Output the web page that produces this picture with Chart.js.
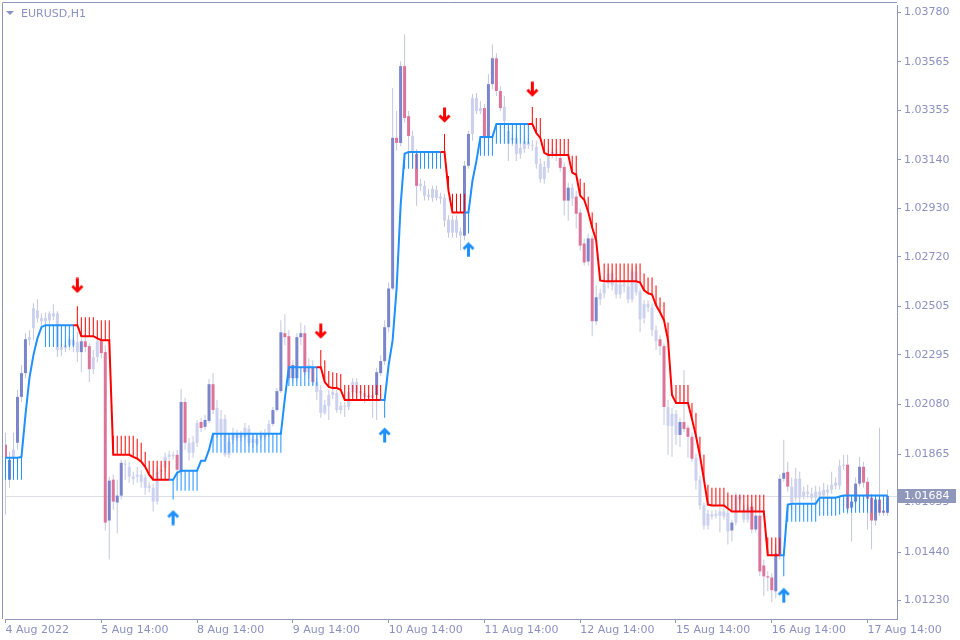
<!DOCTYPE html>
<html>
<head>
<meta charset="utf-8">
<script src="https://cdn.jsdelivr.net/npm/chart.js@4"></script>
<style>
  html, body { margin: 0; padding: 0; background: #ffffff; }
  #priceChart { display: block; }
</style>
</head>
<body>
<canvas id="priceChart" width="960" height="640"></canvas>
<script>
// EURUSD H1, bar 0 = 4 Aug 2022 14:00
const openPrices = [
  1.01905,1.01754,1.01849,1.01914,1.02113,1.02216,1.02359,1.02411,1.02488,1.02454,
  1.02441,1.02445,1.02462,1.02475,1.02316,1.02324,1.02337,1.02359,1.02350,1.02307,
  1.02354,1.02333,1.02233,1.02286,1.02354,1.02307,1.01577,1.01754,1.01655,1.01685,
  1.01819,1.01810,1.01767,1.01767,1.01776,1.01763,1.01728,1.01719,1.01659,1.01788,
  1.01806,1.01853,1.01862,1.01862,1.01788,1.02091,1.01914,1.01871,1.01914,1.02004,
  1.01983,1.02009,1.02168,1.02065,1.01957,1.02017,1.01862,1.01927,1.01957,1.01935,
  1.01940,1.01974,1.01914,1.01931,1.01935,1.01940,1.01953,1.01996,1.02056,1.02138,
  1.02389,1.02376,1.02194,1.02194,1.02372,1.02389,1.02220,1.02242,1.02177,1.02143,
  1.02044,1.02074,1.02121,1.02130,1.02056,1.02074,1.02069,1.02134,1.02177,1.02130,
  1.02130,1.02117,1.02108,1.02121,1.02216,1.02268,1.02415,1.02583,1.03236,1.03214,
  1.03547,1.03330,1.03244,1.03167,1.03028,1.03028,1.02989,1.02976,1.03011,1.02981,
  1.02976,1.02881,1.02825,1.02881,1.02830,1.02812,1.03115,1.03253,1.03408,1.03352,
  1.03365,1.03244,1.03469,1.03581,1.03439,1.03370,1.03266,1.03236,1.03236,1.03167,
  1.03188,1.03218,1.03205,1.03197,1.03123,1.03110,1.03106,1.03167,1.03171,1.03149,
  1.03110,1.02964,1.03020,1.02981,1.02912,1.02778,1.02700,1.02800,1.02441,1.02536,
  1.02562,1.02605,1.02648,1.02605,1.02557,1.02601,1.02592,1.02536,1.02657,1.02570,
  1.02454,1.02515,1.02501,1.02402,1.02363,1.02333,1.02069,1.01987,1.02039,1.01948,
  1.02004,1.01979,1.01940,1.01849,1.01754,1.01642,1.01555,1.01603,1.01598,1.01598,
  1.01616,1.01611,1.01534,1.01568,1.01681,1.01624,1.01581,1.01637,1.01538,1.01598,
  1.01382,1.01335,1.01330,1.01270,1.01430,1.01758,1.01788,1.01724,1.01676,1.01758,
  1.01681,1.01702,1.01693,1.01676,1.01702,1.01685,1.01711,1.01711,1.01728,1.01728,
  1.01814,1.01819,1.01633,1.01659,1.01737,1.01810,1.01745,1.01676,1.01577,1.01668,
  1.01620,1.01611
];
const highPrices = [
  1.01957,1.01875,1.01957,1.02143,1.02251,1.02389,1.02402,1.02519,1.02536,1.02475,
  1.02479,1.02484,1.02515,1.02484,1.02346,1.02359,1.02380,1.02372,1.02393,1.02367,
  1.02376,1.02346,1.02316,1.02380,1.02372,1.02337,1.01767,1.01776,1.01754,1.01840,
  1.01840,1.01832,1.01788,1.01810,1.01797,1.01776,1.01745,1.01737,1.01806,1.01819,
  1.01871,1.01879,1.01875,1.01884,1.02147,1.02109,1.01935,1.01944,1.02013,1.02022,
  1.02035,1.02190,1.02216,1.02100,1.02056,1.02035,1.01935,1.01979,1.01970,1.01966,
  1.02000,1.01991,1.01944,1.01948,1.01966,1.01974,1.02013,1.02069,1.02151,1.02445,
  1.02471,1.02402,1.02272,1.02389,1.02436,1.02424,1.02281,1.02272,1.02194,1.02164,
  1.02100,1.02143,1.02147,1.02143,1.02091,1.02091,1.02151,1.02194,1.02194,1.02156,
  1.02143,1.02130,1.02134,1.02238,1.02294,1.02445,1.02609,1.03452,1.03352,1.03568,
  1.03685,1.03352,1.03266,1.03188,1.03058,1.03050,1.03015,1.03028,1.03028,1.02998,
  1.02994,1.02899,1.02899,1.02899,1.02847,1.03136,1.03266,1.03426,1.03430,1.03396,
  1.03383,1.03512,1.03642,1.03603,1.03460,1.03417,1.03288,1.03253,1.03253,1.03210,
  1.03244,1.03236,1.03227,1.03223,1.03145,1.03136,1.03188,1.03192,1.03188,1.03167,
  1.03128,1.03041,1.03037,1.03007,1.02929,1.02800,1.02821,1.02812,1.02596,1.02583,
  1.02627,1.02670,1.02661,1.02627,1.02618,1.02618,1.02609,1.02670,1.02679,1.02583,
  1.02532,1.02532,1.02519,1.02424,1.02380,1.02346,1.02100,1.02065,1.02056,1.02022,
  1.02229,1.01991,1.01957,1.01866,1.01771,1.01655,1.01624,1.01620,1.01624,1.01633,
  1.01646,1.01624,1.01581,1.01698,1.01693,1.01646,1.01646,1.01655,1.01616,1.01616,
  1.01408,1.01357,1.01348,1.01473,1.01776,1.01927,1.01832,1.01763,1.01806,1.01788,
  1.01724,1.01732,1.01719,1.01728,1.01724,1.01741,1.01732,1.01788,1.01763,1.01840,
  1.01862,1.01862,1.01676,1.01763,1.01853,1.01832,1.01763,1.01693,1.01689,1.01979,
  1.01633,1.01711
];
const lowPrices = [
  1.01602,1.01719,1.01754,1.01884,1.02091,1.02194,1.02337,1.02359,1.02436,1.02402,
  1.02419,1.02428,1.02445,1.02286,1.02290,1.02307,1.02316,1.02307,1.02263,1.02220,
  1.02307,1.02177,1.02212,1.02263,1.02281,1.01534,1.01408,1.01624,1.01521,1.01668,
  1.01754,1.01741,1.01732,1.01741,1.01719,1.01689,1.01698,1.01616,1.01646,1.01754,
  1.01788,1.01840,1.01840,1.01784,1.01776,1.01884,1.01836,1.01849,1.01896,1.01961,
  1.01970,1.02000,1.02039,1.01935,1.01944,1.01853,1.01849,1.01910,1.01923,1.01918,
  1.01927,1.01901,1.01892,1.01901,1.01923,1.01927,1.01940,1.01987,1.02048,1.02130,
  1.02337,1.02186,1.02173,1.02181,1.02337,1.02207,1.02194,1.02164,1.02100,1.02022,
  1.02035,1.02013,1.02104,1.02044,1.02039,1.02026,1.02056,1.02121,1.02108,1.02121,
  1.02087,1.02100,1.02022,1.02013,1.02203,1.02251,1.02393,1.02575,1.03180,1.03201,
  1.03301,1.03180,1.03136,1.02942,1.03007,1.02964,1.02964,1.02959,1.02964,1.02950,
  1.02851,1.02803,1.02803,1.02803,1.02748,1.02791,1.03102,1.03223,1.03339,1.03339,
  1.03223,1.03231,1.03447,1.03417,1.03352,1.03279,1.03136,1.03201,1.03136,1.03145,
  1.03171,1.03188,1.03180,1.03102,1.03041,1.03037,1.03085,1.03149,1.03136,1.03089,
  1.02899,1.02877,1.02942,1.02843,1.02748,1.02683,1.02683,1.02376,1.02424,1.02510,
  1.02540,1.02583,1.02575,1.02540,1.02540,1.02566,1.02519,1.02523,1.02553,1.02393,
  1.02432,1.02480,1.02376,1.02316,1.02294,1.01991,1.01862,1.01853,1.01905,1.01896,
  1.01961,1.01849,1.01832,1.01711,1.01624,1.01538,1.01538,1.01581,1.01586,1.01525,
  1.01581,1.01473,1.01486,1.01555,1.01650,1.01568,1.01568,1.01521,1.01525,1.01335,
  1.01249,1.01270,1.01223,1.01240,1.01408,1.01745,1.01702,1.01624,1.01659,1.01646,
  1.01668,1.01676,1.01659,1.01650,1.01668,1.01659,1.01676,1.01693,1.01711,1.01711,
  1.01797,1.01603,1.01486,1.01646,1.01724,1.01719,1.01538,1.01452,1.01555,1.01598,
  1.01598,1.01598
];
const closePrices = [
  1.01849,1.01840,1.01884,1.02113,1.02216,1.02363,1.02372,1.02497,1.02454,1.02441,
  1.02454,1.02475,1.02475,1.02316,1.02329,1.02337,1.02363,1.02337,1.02307,1.02354,
  1.02329,1.02233,1.02286,1.02354,1.02303,1.01568,1.01750,1.01659,1.01685,1.01827,
  1.01823,1.01767,1.01758,1.01776,1.01745,1.01719,1.01719,1.01659,1.01788,1.01797,
  1.01853,1.01862,1.01857,1.01797,1.02091,1.01914,1.01871,1.01918,1.02000,1.01978,
  1.02013,1.02168,1.02056,1.01957,1.02017,1.01862,1.01918,1.01957,1.01935,1.01948,
  1.01979,1.01914,1.01931,1.01910,1.01948,1.01957,1.01996,1.02056,1.02138,1.02393,
  1.02372,1.02194,1.02251,1.02372,1.02389,1.02220,1.02251,1.02177,1.02134,1.02044,
  1.02078,1.02121,1.02134,1.02056,1.02074,1.02069,1.02134,1.02177,1.02130,1.02138,
  1.02113,1.02113,1.02121,1.02220,1.02268,1.02415,1.02583,1.03236,1.03214,1.03547,
  1.03322,1.03244,1.03171,1.03028,1.03037,1.02985,1.02981,1.03015,1.02976,1.02972,
  1.02877,1.02825,1.02881,1.02825,1.02812,1.03115,1.03253,1.03408,1.03352,1.03365,
  1.03244,1.03469,1.03581,1.03439,1.03365,1.03309,1.03210,1.03227,1.03167,1.03192,
  1.03223,1.03205,1.03201,1.03123,1.03058,1.03058,1.03167,1.03175,1.03158,1.03106,
  1.02964,1.03020,1.02972,1.02907,1.02769,1.02696,1.02800,1.02441,1.02545,1.02562,
  1.02605,1.02648,1.02596,1.02557,1.02601,1.02592,1.02536,1.02657,1.02566,1.02449,
  1.02515,1.02501,1.02402,1.02354,1.02333,1.02069,1.01987,1.02039,1.01948,1.02004,
  1.01974,1.01940,1.01845,1.01750,1.01642,1.01555,1.01607,1.01594,1.01607,1.01616,
  1.01594,1.01529,1.01568,1.01681,1.01668,1.01581,1.01633,1.01538,1.01598,1.01356,
  1.01335,1.01330,1.01275,1.01434,1.01758,1.01784,1.01724,1.01655,1.01758,1.01676,
  1.01702,1.01693,1.01676,1.01702,1.01685,1.01711,1.01698,1.01732,1.01741,1.01814,
  1.01819,1.01629,1.01659,1.01737,1.01810,1.01741,1.01672,1.01577,1.01668,1.01611,
  1.01611,1.01684
];
// candles painted in the strong colours (the rest are pale)
const darkBars = [0,1,3,4,5,19,20,21,24,25,26,27,28,29,43,44,45,49,50,51,52,67,68,69,70,71,72,73,74,75,77,
  91,93,94,95,96,97,98,99,100,101,103,115,116,120,121,122,123,124,139,140,141,143,144,145,146,147,148,
  164,165,169,170,171,172,182,187,188,189,190,191,192,193,194,195,196,211,212,213,214,215,216,217,218,219,220,221];

// trailing stop line of the indicator
const stopLine = [
  1.01849,1.01849,1.01849,1.01849,1.01853,1.02035,1.02194,1.02294,1.02367,1.02415,
  1.02424,1.02424,1.02424,1.02424,1.02424,1.02424,1.02424,1.02424,1.02424,1.02376,
  1.02376,1.02376,1.02376,1.02367,1.02359,1.02359,1.02359,1.01862,1.01862,1.01862,
  1.01862,1.01862,1.01853,1.01845,1.01832,1.01810,1.01776,1.01754,1.01754,1.01754,
  1.01754,1.01754,1.01754,1.01784,1.01793,1.01793,1.01793,1.01793,1.01793,1.01836,
  1.01836,1.01884,1.01953,1.01953,1.01953,1.01953,1.01953,1.01953,1.01953,1.01953,
  1.01953,1.01953,1.01953,1.01953,1.01953,1.01953,1.01953,1.01953,1.01953,1.01953,
  1.02108,1.02242,1.02242,1.02242,1.02242,1.02242,1.02242,1.02242,1.02242,1.02242,
  1.02177,1.02156,1.02151,1.02151,1.02143,1.02100,1.02100,1.02100,1.02100,1.02100,
  1.02100,1.02100,1.02100,1.02100,1.02100,1.02100,1.02251,1.02359,1.02583,1.02942,
  1.03167,1.03175,1.03175,1.03175,1.03175,1.03175,1.03175,1.03175,1.03175,1.03175,
  1.03175,1.03007,1.02912,1.02912,1.02912,1.02912,1.02912,1.03050,1.03136,1.03240,
  1.03240,1.03240,1.03240,1.03296,1.03296,1.03296,1.03296,1.03296,1.03296,1.03296,
  1.03296,1.03296,1.03296,1.03257,1.03236,1.03171,1.03162,1.03162,1.03162,1.03162,
  1.03162,1.03162,1.03085,1.03076,1.02985,1.02968,1.02916,1.02847,1.02791,1.02618,
  1.02614,1.02614,1.02614,1.02614,1.02614,1.02614,1.02614,1.02614,1.02614,1.02609,
  1.02575,1.02562,1.02557,1.02510,1.02480,1.02445,1.02359,1.02121,1.02087,1.02087,
  1.02087,1.02087,1.02017,1.01944,1.01858,1.01754,1.01646,1.01642,1.01642,1.01642,
  1.01642,1.01629,1.01616,1.01616,1.01616,1.01616,1.01616,1.01616,1.01616,1.01616,
  1.01616,1.01426,1.01426,1.01426,1.01426,1.01426,1.01646,1.01650,1.01650,1.01650,
  1.01650,1.01650,1.01650,1.01650,1.01676,1.01676,1.01676,1.01676,1.01676,1.01681,
  1.01685,1.01685,1.01685,1.01685,1.01685,1.01685,1.01685,1.01685,1.01685,1.01685,
  1.01685,1.01685
];
// far end of the indicator's thin vertical strokes (null = no stroke)
const stopBand = [
  1.01754,1.01754,1.01754,1.01754,1.01754,null,null,null,null,null,
  1.02329,1.02329,1.02329,1.02329,1.02329,1.02329,1.02329,1.02329,1.02506,1.02458,
  1.02458,1.02458,1.02458,1.02445,1.02445,1.02445,1.02445,1.01944,1.01944,1.01944,
  1.01944,1.01944,1.01944,1.01931,1.01914,1.01875,1.01836,1.01836,1.01836,1.01836,
  1.01836,1.01836,1.01668,1.01706,1.01706,1.01706,1.01706,1.01706,1.01706,null,
  null,null,1.01871,1.01871,1.01871,1.01871,1.01871,1.01871,1.01871,1.01871,
  1.01871,1.01871,1.01871,1.01871,1.01871,1.01871,1.01871,1.01871,1.01871,1.01871,
  null,1.02160,1.02160,1.02160,1.02160,1.02160,1.02160,1.02160,1.02160,1.02316,
  1.02272,1.02225,1.02220,1.02216,1.02212,1.02164,1.02164,1.02164,1.02164,1.02164,
  1.02164,1.02164,1.02164,1.02164,1.02164,1.02022,null,null,null,null,
  1.03102,1.03102,1.03102,1.03102,1.03102,1.03102,1.03102,1.03102,1.03102,1.03102,
  1.03253,1.03071,1.02994,1.02994,1.02994,1.02994,1.02821,null,null,1.03158,
  1.03158,1.03158,1.03158,1.03210,1.03210,1.03210,1.03210,1.03210,1.03210,1.03210,
  1.03210,1.03210,1.03370,1.03322,1.03322,1.03231,1.03231,1.03231,1.03231,1.03231,
  1.03231,1.03231,1.03158,1.03158,1.03059,1.03041,1.02981,1.02912,1.02868,null,
  1.02691,1.02691,1.02691,1.02691,1.02691,1.02691,1.02691,1.02691,1.02691,1.02691,
  1.02648,1.02631,1.02631,1.02596,1.02544,1.02523,1.02436,null,1.02164,1.02164,
  1.02164,1.02164,1.02087,1.02043,1.01940,1.01862,1.01732,1.01719,1.01719,1.01719,
  1.01719,1.01698,1.01689,1.01689,1.01689,1.01689,1.01689,1.01689,1.01689,1.01689,
  1.01689,1.01503,1.01503,1.01503,1.01503,1.01335,1.01572,1.01572,1.01572,1.01572,
  1.01572,1.01572,1.01572,1.01572,1.01598,1.01598,1.01598,1.01598,1.01598,1.01603,
  1.01611,1.01611,1.01611,1.01611,1.01611,1.01611,1.01611,1.01611,1.01611,1.01611,
  1.01611,1.01611
];
// trend switches: first bar of each run and its direction (1 up, -1 down)
const trendStart = [0, 18, 42, 79, 95, 110, 116, 132, 195];
const trendDir = [1, -1, 1, -1, 1, -1, 1, -1, 1];

const upArrowBars = [42, 95, 116, 195];
const upArrowPrices = [1.01590, 1.01948, 1.02752, 1.01253];
const downArrowBars = [18, 79, 110, 132];
const downArrowPrices = [1.02596, 1.02398, 1.03335, 1.03447];

const bidPrice = 1.01684;
const priceTicks = [1.03780, 1.03565, 1.03355, 1.03140, 1.02930, 1.02720, 1.02505, 1.02295, 1.02080, 1.01865, 1.01655, 1.01440, 1.01230];
const timeTickIdx = [0, 24, 48, 72, 96, 120, 144, 168, 192, 216];
const timeTickLabels = ['4 Aug 2022', '5 Aug 14:00', '8 Aug 14:00', '9 Aug 14:00', '10 Aug 14:00',
  '11 Aug 14:00', '12 Aug 14:00', '15 Aug 14:00', '16 Aug 14:00', '17 Aug 14:00'];

const AXIS = '#8e96ba';
const TEXT = '#8a91c1';
const BULL = '#7a85cb';
const BEAR = '#dc7398';
const PALE = '#cbd1ef';
const WICK = '#c3c7de';
const UP = '#1e90ff';
const DOWN = '#ff0000';
const FONT = 'DejaVu Sans';

// per-bar trend direction
const dirs = [];
let run = 0;
for (let i = 0; i < closePrices.length; i++) {
    while (run + 1 < trendStart.length && i >= trendStart[run + 1]) run++;
    dirs.push(trendDir[run]);
}

const dark = new Set(darkBars);
const bodyColors = openPrices.map((o, i) => !dark.has(i) ? PALE : (closePrices[i] >= o ? BULL : BEAR));

const bandBars = [];
stopBand.forEach((v, i) => { if (v !== null) bandBars.push(i); });

function makeArrow(color, pointDown) {
    const c = document.createElement('canvas');
    c.width = 13;
    c.height = 16;
    const g = c.getContext('2d');
    if (pointDown) {
        g.translate(0, 16);
        g.scale(1, -1);
    }
    g.fillStyle = color;
    g.beginPath();
    g.moveTo(6.5, 0.5);
    g.lineTo(12.5, 6.5);
    g.lineTo(10.5, 8.5);
    g.lineTo(8, 6);
    g.lineTo(8, 15.5);
    g.lineTo(5, 15.5);
    g.lineTo(5, 6);
    g.lineTo(2.5, 8.5);
    g.lineTo(0.5, 6.5);
    g.closePath();
    g.fill();
    return c;
}

const frameAndLabels = {
    id: 'mtFrame',
    beforeDatasetsDraw(chart) {
        const ctx = chart.ctx;
        const area = chart.chartArea;
        const y = Math.round(chart.scales.y.getPixelForValue(bidPrice)) + 0.5;
        ctx.save();
        ctx.strokeStyle = '#dcdfea';
        ctx.lineWidth = 1;
        ctx.beginPath();
        ctx.moveTo(area.left, y);
        ctx.lineTo(area.right, y);
        ctx.stroke();
        ctx.restore();
    },
    afterDraw(chart) {
        const ctx = chart.ctx;
        const area = chart.chartArea;
        ctx.save();
        // frame on the left and top
        ctx.strokeStyle = AXIS;
        ctx.lineWidth = 1;
        ctx.beginPath();
        ctx.moveTo(2.5, area.bottom);
        ctx.lineTo(2.5, 2.5);
        ctx.lineTo(area.right, 2.5);
        ctx.stroke();

        // bid price box on the price scale
        const y = Math.round(chart.scales.y.getPixelForValue(bidPrice));
        ctx.fillStyle = '#8f97bb';
        ctx.fillRect(area.right + 1, y - 7, 58, 14);
        ctx.fillStyle = '#ffffff';
        ctx.font = '11px "' + FONT + '"';
        ctx.textBaseline = 'middle';
        ctx.textAlign = 'left';
        ctx.fillText(bidPrice.toFixed(5), area.right + 7, y + 0.5);

        // symbol caption
        ctx.fillStyle = TEXT;
        ctx.beginPath();
        ctx.moveTo(6, 11);
        ctx.lineTo(14, 11);
        ctx.lineTo(10, 15);
        ctx.closePath();
        ctx.fill();
        ctx.fillText('EURUSD,H1', 21, 14);
        ctx.restore();
    }
};

const ctx = document.getElementById('priceChart');
new Chart(ctx, {
    type: 'bar',
    data: {
        datasets: [
            {
                type: 'scatter',
                data: upArrowBars.map((b, i) => ({ x: b, y: upArrowPrices[i] })),
                pointStyle: makeArrow(UP, false),
                order: 1
            },
            {
                type: 'scatter',
                data: downArrowBars.map((b, i) => ({ x: b, y: downArrowPrices[i] })),
                pointStyle: makeArrow(DOWN, true),
                order: 1
            },
            {
                type: 'line',
                data: stopLine.map((v, i) => ({ x: i, y: v })),
                borderColor: UP,
                borderWidth: 2,
                pointRadius: 0,
                tension: 0,
                segment: {
                    borderColor: c => dirs[c.p1DataIndex] > 0 ? UP : DOWN
                },
                order: 2
            },
            {
                data: bandBars.map(i => ({ x: i, y: [stopLine[i], stopBand[i]] })),
                backgroundColor: bandBars.map(i => dirs[i] > 0 ? UP : DOWN),
                barThickness: 1,
                inflateAmount: 0,
                grouped: false,
                borderWidth: 0,
                order: 3
            },
            {
                data: openPrices.map((o, i) => ({ x: i, y: [o, closePrices[i]] })),
                backgroundColor: bodyColors,
                barThickness: 3,
                inflateAmount: 0,
                minBarLength: 1,
                grouped: false,
                borderWidth: 0,
                order: 4
            },
            {
                data: highPrices.map((h, i) => ({ x: i, y: [lowPrices[i], h] })),
                backgroundColor: WICK,
                barThickness: 1,
                inflateAmount: 0,
                grouped: false,
                borderWidth: 0,
                order: 5
            }
        ]
    },
    options: {
        responsive: false,
        animation: false,
        devicePixelRatio: 1,
        layout: { padding: { left: 3, top: 3, right: 0, bottom: 0 } },
        plugins: {
            legend: { display: false },
            tooltip: { enabled: false },
            title: { display: false }
        },
        scales: {
            x: {
                type: 'linear',
                min: -0.125,
                max: 223.375,
                offset: false,
                afterFit(scale) {
                    scale.height = 21;
                    scale.paddingLeft = 0;
                    scale.paddingRight = 0;
                },
                afterBuildTicks(scale) {
                    scale.ticks = timeTickIdx.map(v => ({ value: v }));
                },
                ticks: {
                    autoSkip: false,
                    maxRotation: 0,
                    align: 'start',
                    padding: 1,
                    color: TEXT,
                    font: { family: FONT, size: 11 },
                    callback: (v, i) => timeTickLabels[i]
                },
                grid: { drawOnChartArea: false, drawTicks: true, tickLength: 4, color: AXIS, offset: false },
                border: { display: true, color: AXIS }
            },
            y: {
                type: 'linear',
                position: 'right',
                min: 1.01150,
                max: 1.03812,
                afterFit(scale) {
                    scale.width = 63;
                    scale.paddingTop = 0;
                    scale.paddingBottom = 0;
                },
                afterBuildTicks(scale) {
                    scale.ticks = priceTicks.map(v => ({ value: v }));
                },
                ticks: {
                    padding: 3,
                    color: TEXT,
                    font: { family: FONT, size: 11 },
                    callback: v => v.toFixed(5)
                },
                grid: { drawOnChartArea: false, drawTicks: true, tickLength: 4, color: AXIS },
                border: { display: true, color: AXIS }
            }
        }
    },
    plugins: [frameAndLabels]
});
</script>
</body>
</html>
